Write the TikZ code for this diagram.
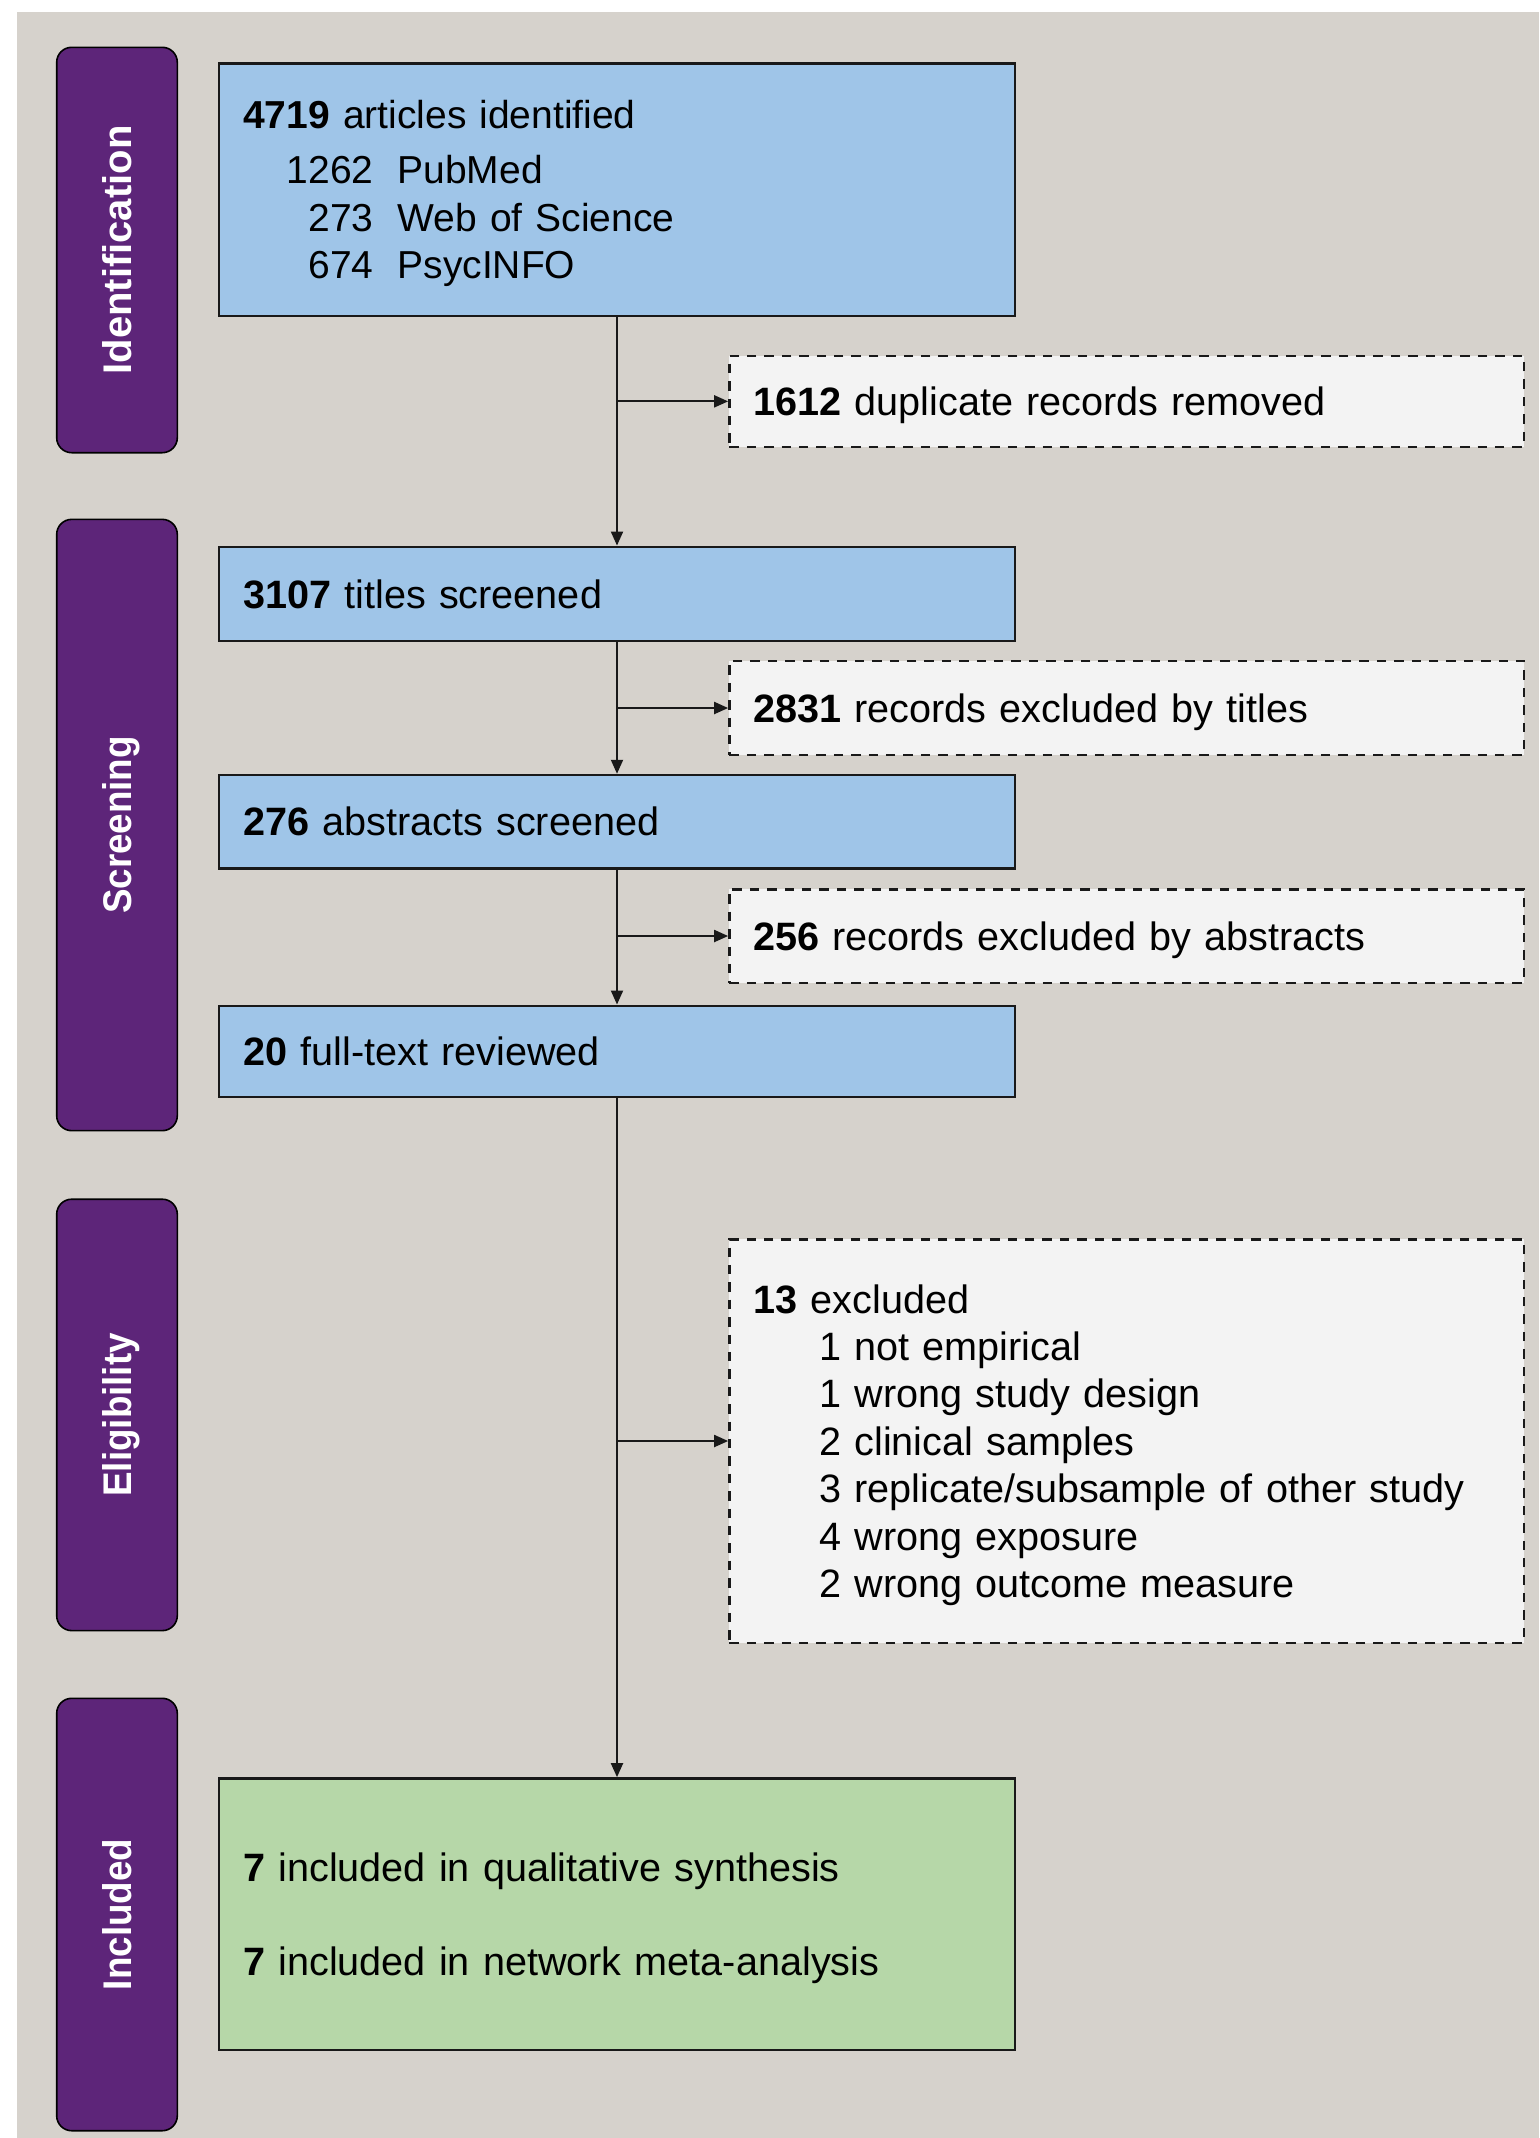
\documentclass[tikz,border=0pt]{standalone}
\usepackage{fontspec}
\setmainfont{Liberation Sans}[WordSpace=0.88]
\newfontfamily\phasefont[FakeStretch=0.92]{Liberation Sans}
\usetikzlibrary{arrows.meta}
\definecolor{fond}{rgb}{0.839,0.824,0.800}
\definecolor{cbleu}{rgb}{0.624,0.773,0.910}
\definecolor{cvert}{rgb}{0.714,0.843,0.659}
\definecolor{cviolet}{rgb}{0.365,0.145,0.475}
\definecolor{cpale}{rgb}{0.953,0.953,0.953}
\definecolor{trait}{rgb}{0.1,0.1,0.1}

\begin{document}
\begin{tikzpicture}[x=0.5pt, y=-0.5pt, ->, >={Triangle[length=7pt, width=6pt]}, line width=1pt, draw=trait]
  \tikzstyle{stage}=[rectangle, draw=trait, line width=1.2pt, fill=cbleu, minimum width=397.75pt, text width=373.75pt, inner xsep=12pt, inner ysep=0pt, align=left, font=\fontsize{19.8}{23.7}\selectfont, text height=14.2pt, text depth=0pt]
  \tikzstyle{excl}=[stage, fill=cpale, dash pattern=on 4.7pt off 4pt, minimum width=397.35pt, text width=373.35pt]
  \tikzstyle{phase}=[rectangle, rounded corners=7.5pt, draw=black, line width=0.8pt, fill=cviolet, rotate=90, minimum height=60.3pt, inner sep=0pt, text=white, font=\phasefont\fontsize{20}{24}\selectfont\bfseries, text height=14.3pt, text depth=0pt]

  \useasboundingbox (0,0) rectangle (1539,2138);
  \fill[fond] (16.7,12.3) rectangle (1539,2138);

  % phases
  \node[phase, minimum width=202.7pt, font=\fontsize{20}{24}\selectfont\bfseries] (pident) at (117,250) {Identification};
  \node[phase, minimum width=305.65pt] (pscreen) at (117,825) {Screening};
  \node[phase, minimum width=215.7pt] (pelig) at (117,1414.9) {Eligibility};
  \node[phase, minimum width=216.2pt] (pincl) at (117,1914.5) {Included};

  % main flow
  \node[stage, minimum height=126.2pt, font=\fontsize{19.5}{23.75}\selectfont, text height=14pt, text depth=75pt] (ident) at (617,189.5)
    {\textbf{4719} articles identified\\[3.75pt]
     \makebox[65.2pt][r]{1262}\hspace{12pt}PubMed\\
     \makebox[65.2pt][r]{273}\hspace{12pt}Web of Science\\
     \makebox[65.2pt][r]{674}\hspace{12pt}PsycINFO};
  \node[stage, minimum height=47.15pt] (titles) at (617,593.9) {\textbf{3107} titles screened};
  \node[stage, minimum height=46.75pt] (abstr) at (617,821.7) {\textbf{276} abstracts screened};
  \node[stage, minimum height=45.5pt] (fulltext) at (617,1051.2) {\textbf{20} full-text reviewed};
  \node[stage, fill=cvert, minimum height=135.85pt, text depth=47.2pt] (incl) at (617,1914.2)
    {\textbf{7} included in qualitative synthesis\\[23.5pt]
     \textbf{7} included in network meta-analysis};

  % exclusions
  \node[excl, minimum height=45.35pt] (dup) at (1126.7,401.35) {\textbf{1612} duplicate records removed};
  \node[excl, minimum height=47pt] (extitle) at (1126.7,708) {\textbf{2831} records excluded by titles};
  \node[excl, minimum height=46.7pt] (exabs) at (1126.7,936) {\textbf{256} records excluded by abstracts};
  \node[excl, minimum height=201.7pt, text depth=142.2pt] (exfull) at (1126.7,1441)
    {\textbf{13} excluded\\
     \hspace*{33pt}1 not empirical\\
     \hspace*{33pt}1 wrong study design\\
     \hspace*{33pt}2 clinical samples\\
     \hspace*{33pt}3 replicate/subsample of other study\\
     \hspace*{33pt}4 wrong exposure\\
     \hspace*{33pt}2 wrong outcome measure};

  \coordinate (j1) at (ident.south |- dup.west);
  \coordinate (j2) at (titles.south |- extitle.west);
  \coordinate (j3) at (abstr.south |- exabs.west);
  \coordinate (j4) at (fulltext.south |- exfull.west);

  \path
    (ident) edge (titles)
    (titles) edge (abstr)
    (abstr) edge (fulltext)
    (fulltext) edge (incl)
    (j1) edge (dup)
    (j2) edge (extitle)
    (j3) edge (exabs)
    (j4) edge (exfull)
    ;

\end{tikzpicture}
\end{document}
